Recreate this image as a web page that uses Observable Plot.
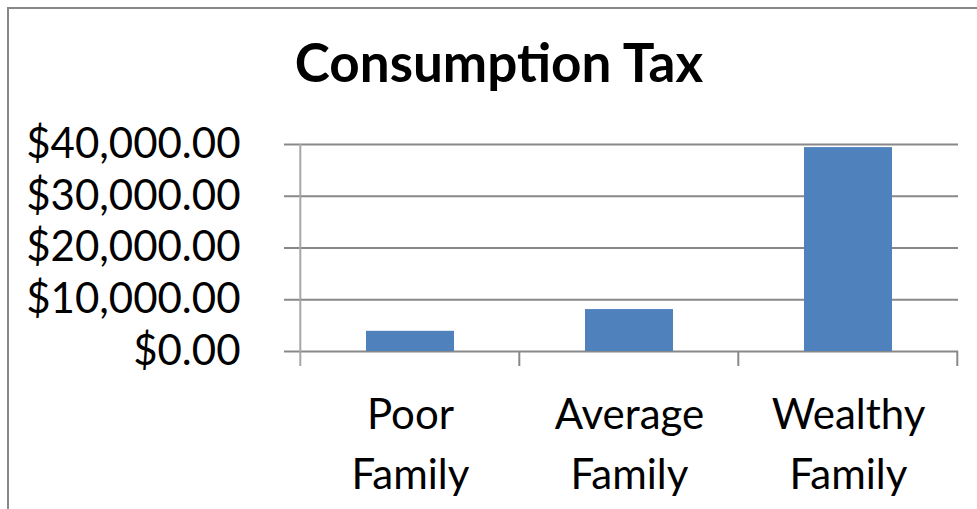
<!DOCTYPE html>
<html>
<head>
<meta charset="utf-8">
<script src="https://cdn.jsdelivr.net/npm/d3@7"></script>
<script src="https://cdn.jsdelivr.net/npm/@observablehq/plot@0.6"></script>
<style>
  html, body { margin: 0; padding: 0; background: #fff; }
  #wrap { position: relative; width: 977px; height: 509px; overflow: hidden; background: #fff; }
  #border { position: absolute; left: 7px; top: 7px; width: 990px; height: 520px;
            border-left: 2px solid #888; border-top: 2px solid #888; box-sizing: border-box; }
  #title { position: absolute; left: 0; width: 998px; top: 30px; text-align: center;
           font-family: Lato, "Open Sans", sans-serif; font-weight: bold; font-size: 53px; color: #000; }
  #chart { position: absolute; left: 0; top: 0; }
</style>
</head>
<body>
<div id="wrap">
  <div id="border"></div>
  <div id="title"></div>
  <div id="chart"></div>
</div>
<script>
const title = "Consumption Tax";
const categories = ["Poor Family", "Average Family", "Wealthy Family"];
const categoryLabels = ["Poor\nFamily", "Average\nFamily", "Wealthy\nFamily"];
const values = [3900, 8100, 39400];
const yTicks = [0, 10000, 20000, 30000, 40000];

const data = categories.map((c, i) => ({category: c, value: values[i]}));
const labelOf = new Map(categories.map((c, i) => [c, categoryLabels[i]]));
const money = d => "$" + d3.format(",.2f")(d);

const padInner = 0.6, padOuter = 0.3;
const gray = "#888";

const boundaryTicks = (index, scales, vals, dims) => {
  const x = scales.x, y = scales.y;
  const step = x(categories[1]) - x(categories[0]);
  const bw = step * (1 - padInner);
  const xs = categories.map(c => x(c) - (step - bw) / 2);
  xs.push(x(categories[categories.length - 1]) + bw + (step - bw) / 2);
  const g = d3.create("svg:g");
  const y0 = y(0);
  g.selectAll("line").data(xs).join("line")
    .attr("x1", d => d).attr("x2", d => d)
    .attr("y1", (d, i) => i === 0 ? y(yTicks[yTicks.length - 1]) : y0)
    .attr("y2", y0 + 15)
    .attr("stroke", (d, i) => i === 0 ? "#a6a6a6" : gray)
    .attr("stroke-width", 2);
  return g.node();
};

const chart = Plot.plot({
  width: 977,
  height: 509,
  marginLeft: 299,
  marginRight: 19,
  marginTop: 144,
  marginBottom: 158,
  style: {fontFamily: "Lato, 'Open Sans', sans-serif", fontSize: "42px", color: "#000", background: "transparent"},
  x: {domain: categories, paddingInner: padInner, paddingOuter: padOuter, label: null},
  y: {domain: [0, 40000], label: null},
  marks: [
    Plot.gridY(yTicks, {stroke: gray, strokeOpacity: 1, strokeWidth: 2}),
    Plot.barY(data, {x: "category", y: "value", fill: "#4F81BD"}),
    Plot.axisY(yTicks, {tickSize: 15, tickPadding: 44, tickFormat: money, stroke: gray, strokeWidth: 2, fontSize: 42, label: null}),
    Plot.axisX({tickSize: 0, tickPadding: 35, tickFormat: d => labelOf.get(d), fontSize: 42, lineHeight: 1.43, label: null}),
    boundaryTicks
  ]
});

document.getElementById("title").textContent = title;
document.getElementById("chart").appendChild(chart);
</script>
</body>
</html>
